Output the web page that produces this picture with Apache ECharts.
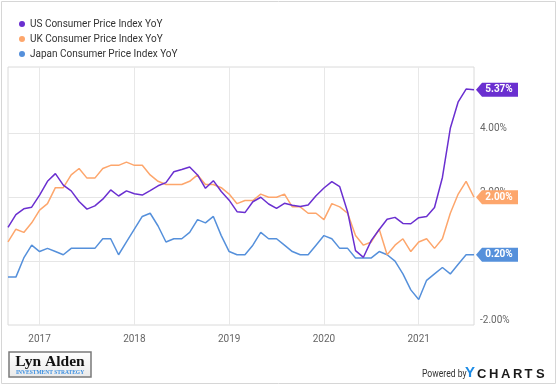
<!DOCTYPE html>
<html>
<head>
<meta charset="utf-8">
<script src="https://cdn.jsdelivr.net/npm/echarts@6/dist/echarts.min.js"></script>
<style>
  html, body { margin: 0; padding: 0; background: #fff; }
  #chart { width: 558px; height: 387px; }
</style>
</head>
<body>
<div id="chart"></div>
<script>
// Monthly observations (month-end), Aug 2016 – Jul 2021
const months = [
  '2016-08','2016-09','2016-10','2016-11','2016-12',
  '2017-01','2017-02','2017-03','2017-04','2017-05','2017-06','2017-07','2017-08','2017-09','2017-10','2017-11','2017-12',
  '2018-01','2018-02','2018-03','2018-04','2018-05','2018-06','2018-07','2018-08','2018-09','2018-10','2018-11','2018-12',
  '2019-01','2019-02','2019-03','2019-04','2019-05','2019-06','2019-07','2019-08','2019-09','2019-10','2019-11','2019-12',
  '2020-01','2020-02','2020-03','2020-04','2020-05','2020-06','2020-07','2020-08','2020-09','2020-10','2020-11','2020-12',
  '2021-01','2021-02','2021-03','2021-04','2021-05','2021-06','2021-07'
];

const usCPI = [
  1.06,1.46,1.64,1.69,2.07,
  2.50,2.74,2.38,2.20,1.87,1.63,1.73,1.94,2.23,2.04,2.20,2.11,
  2.07,2.21,2.36,2.46,2.80,2.87,2.95,2.70,2.28,2.52,2.18,1.91,
  1.55,1.52,1.86,2.00,1.79,1.65,1.81,1.75,1.71,1.76,2.05,2.29,
  2.49,2.33,1.54,0.33,0.12,0.65,0.99,1.31,1.37,1.18,1.17,1.36,
  1.40,1.68,2.62,4.16,4.99,5.39,5.37
];

const ukCPI = [
  0.6,1.0,0.9,1.2,1.6,
  1.8,2.3,2.3,2.7,2.9,2.6,2.6,2.9,3.0,3.0,3.1,3.0,
  3.0,2.7,2.5,2.4,2.4,2.4,2.5,2.7,2.4,2.4,2.3,2.1,
  1.8,1.9,1.9,2.1,2.0,2.0,2.1,1.7,1.7,1.5,1.5,1.3,
  1.8,1.7,1.5,0.8,0.5,0.6,1.0,0.2,0.5,0.7,0.3,0.6,
  0.7,0.4,0.7,1.5,2.1,2.5,2.0
];

const japanCPI = [
  -0.5,-0.5,0.1,0.5,0.3,
  0.4,0.3,0.2,0.4,0.4,0.4,0.4,0.7,0.7,0.2,0.6,1.0,
  1.4,1.5,1.1,0.6,0.7,0.7,0.9,1.3,1.2,1.4,0.8,0.3,
  0.2,0.2,0.5,0.9,0.7,0.7,0.5,0.3,0.2,0.2,0.5,0.8,
  0.7,0.4,0.4,0.1,0.1,0.1,0.3,0.2,0.0,-0.4,-0.9,-1.2,
  -0.6,-0.4,-0.2,-0.4,-0.1,0.2,0.2
];

const seriesNames = ['US Consumer Price Index YoY', 'UK Consumer Price Index YoY', 'Japan Consumer Price Index YoY'];
const seriesColors = ['#6a2fd0', '#fda66c', '#5590db'];
const gridValues = [0, 2, 4];
const yMin = -2, yMax = 6.08, yStep = 2;

const tagPath = 'path://M0,7L6,0L42,0L42,14L6,14Z';
const isYearEnd = (idx, val) => val.slice(5) === '12';

function makeSeries(name, data, color, withGrid) {
  const last = data[data.length - 1];
  const s = {
    name: name,
    type: 'line',
    data: data,
    symbol: 'none',
    lineStyle: { width: 1.5, color: color },
    itemStyle: { color: color },
    emphasis: { disabled: true },
    z: 3,
    markPoint: {
      silent: true,
      symbol: tagPath,
      symbolSize: [42, 14],
      symbolOffset: [23, 0],
      itemStyle: { color: color },
      label: {
        show: true,
        position: 'inside',
        offset: [2, 0],
        formatter: last.toFixed(2) + '%',
        color: '#fff',
        fontSize: 10,
        fontWeight: 'bold',
        fontFamily: 'Roboto'
      },
      data: [{ coord: [months[months.length - 1], last], value: last }]
    }
  };
  if (withGrid) {
    s.markLine = {
      silent: true,
      z: 1,
      symbol: ['none', 'none'],
      label: { show: false },
      lineStyle: { color: '#e6e6e6', width: 1, type: 'solid' },
      emphasis: { disabled: true },
      data: gridValues.map(v => ({ yAxis: v }))
    };
  }
  return s;
}

const chart = echarts.init(document.getElementById('chart'), null, { renderer: 'canvas' });

const option = {
  animation: false,
  backgroundColor: '#fff',
  textStyle: { fontFamily: 'Roboto' },
  legend: {
    orient: 'vertical',
    left: 14,
    top: 13,
    itemWidth: 6,
    itemHeight: 6,
    itemGap: 3,
    icon: 'circle',
    selectedMode: false,
    data: seriesNames,
    textStyle: { fontSize: 10, color: '#333', fontFamily: 'Roboto', lineHeight: 12 }
  },
  grid: {
    left: 8, right: 84, top: 67, bottom: 62,
    show: true, borderColor: '#dadada', borderWidth: 1,
    containLabel: false, outerBoundsMode: 'none'
  },
  xAxis: {
    type: 'category',
    data: months,
    boundaryGap: false,
    axisLine: { show: false },
    axisTick: { show: false },
    axisLabel: {
      interval: isYearEnd,
      formatter: v => String(Number(v.slice(0, 4)) + 1),
      color: '#666',
      fontSize: 10,
      margin: 9
    },
    splitLine: { show: true, interval: isYearEnd, lineStyle: { color: '#e8e8e8', width: 1 } }
  },
  yAxis: {
    type: 'value',
    position: 'right',
    min: yMin,
    max: yMax,
    interval: yStep,
    axisLine: { show: false },
    axisTick: { show: false },
    splitLine: { show: false },
    axisLabel: {
      formatter: v => (v > 4.5 ? '' : v.toFixed(2) + '%'),
      color: '#666',
      fontSize: 10,
      margin: 6,
      verticalAlign: 'bottom'
    }
  },
  series: [
    makeSeries(seriesNames[2], japanCPI, seriesColors[2], true),
    makeSeries(seriesNames[1], ukCPI, seriesColors[1], false),
    makeSeries(seriesNames[0], usCPI, seriesColors[0], false)
  ],
  graphic: [
    { type: 'rect', silent: true, z: -10,
      shape: { x: 1.5, y: 1.5, width: 554, height: 382 },
      style: { fill: 'none', stroke: '#d6d6d6', lineWidth: 1 } },
    { type: 'rect', silent: true,
      shape: { x: 9, y: 352, width: 82, height: 25 },
      style: {
        fill: new echarts.graphic.LinearGradient(0, 0, 0, 1, [
          { offset: 0, color: '#ffffff' }, { offset: 1, color: '#e9e9e9' }
        ]),
        stroke: '#7a7a7a', lineWidth: 1.5
      } },
    { type: 'text', silent: true, x: 50, y: 362,
      style: { text: 'Lyn Alden', fontFamily: 'Liberation Serif', fontWeight: 'bold', fontSize: 15.5,
               fill: '#111', align: 'center', verticalAlign: 'middle' } },
    { type: 'text', silent: true, x: 50, y: 372.5,
      style: { text: 'INVESTMENT STRATEGY', fontFamily: 'Liberation Serif', fontWeight: 'bold', fontSize: 5.5,
               fill: '#3a8ee0', align: 'center', verticalAlign: 'middle' } },
    { type: 'text', silent: true, x: 422, y: 374, scaleX: 0.86,
      style: { text: 'Powered by', fontFamily: 'Roboto', fontSize: 10,
               fill: '#333', align: 'left', verticalAlign: 'middle' } },
    { type: 'text', silent: true, x: 465, y: 373,
      style: { text: 'Y', fontFamily: 'Liberation Sans', fontWeight: 'bold', fontSize: 15,
               fill: '#1b8be6', align: 'left', verticalAlign: 'middle' } },
    { type: 'text', silent: true, x: 477, y: 374,
      style: { text: 'C', fontFamily: 'Liberation Sans', fontWeight: 'bold', fontSize: 13, fill: '#1a1a1a', verticalAlign: 'middle' } },
    { type: 'text', silent: true, x: 489, y: 374,
      style: { text: 'H', fontFamily: 'Liberation Sans', fontWeight: 'bold', fontSize: 13, fill: '#1a1a1a', verticalAlign: 'middle' } },
    { type: 'text', silent: true, x: 501, y: 374,
      style: { text: 'A', fontFamily: 'Liberation Sans', fontWeight: 'bold', fontSize: 13, fill: '#1a1a1a', verticalAlign: 'middle' } },
    { type: 'text', silent: true, x: 513, y: 374,
      style: { text: 'R', fontFamily: 'Liberation Sans', fontWeight: 'bold', fontSize: 13, fill: '#1a1a1a', verticalAlign: 'middle' } },
    { type: 'text', silent: true, x: 524.5, y: 374,
      style: { text: 'T', fontFamily: 'Liberation Sans', fontWeight: 'bold', fontSize: 13, fill: '#1a1a1a', verticalAlign: 'middle' } },
    { type: 'text', silent: true, x: 536, y: 374,
      style: { text: 'S', fontFamily: 'Liberation Sans', fontWeight: 'bold', fontSize: 13, fill: '#1a1a1a', verticalAlign: 'middle' } }
  ]
};

chart.setOption(option);
</script>
</body>
</html>
